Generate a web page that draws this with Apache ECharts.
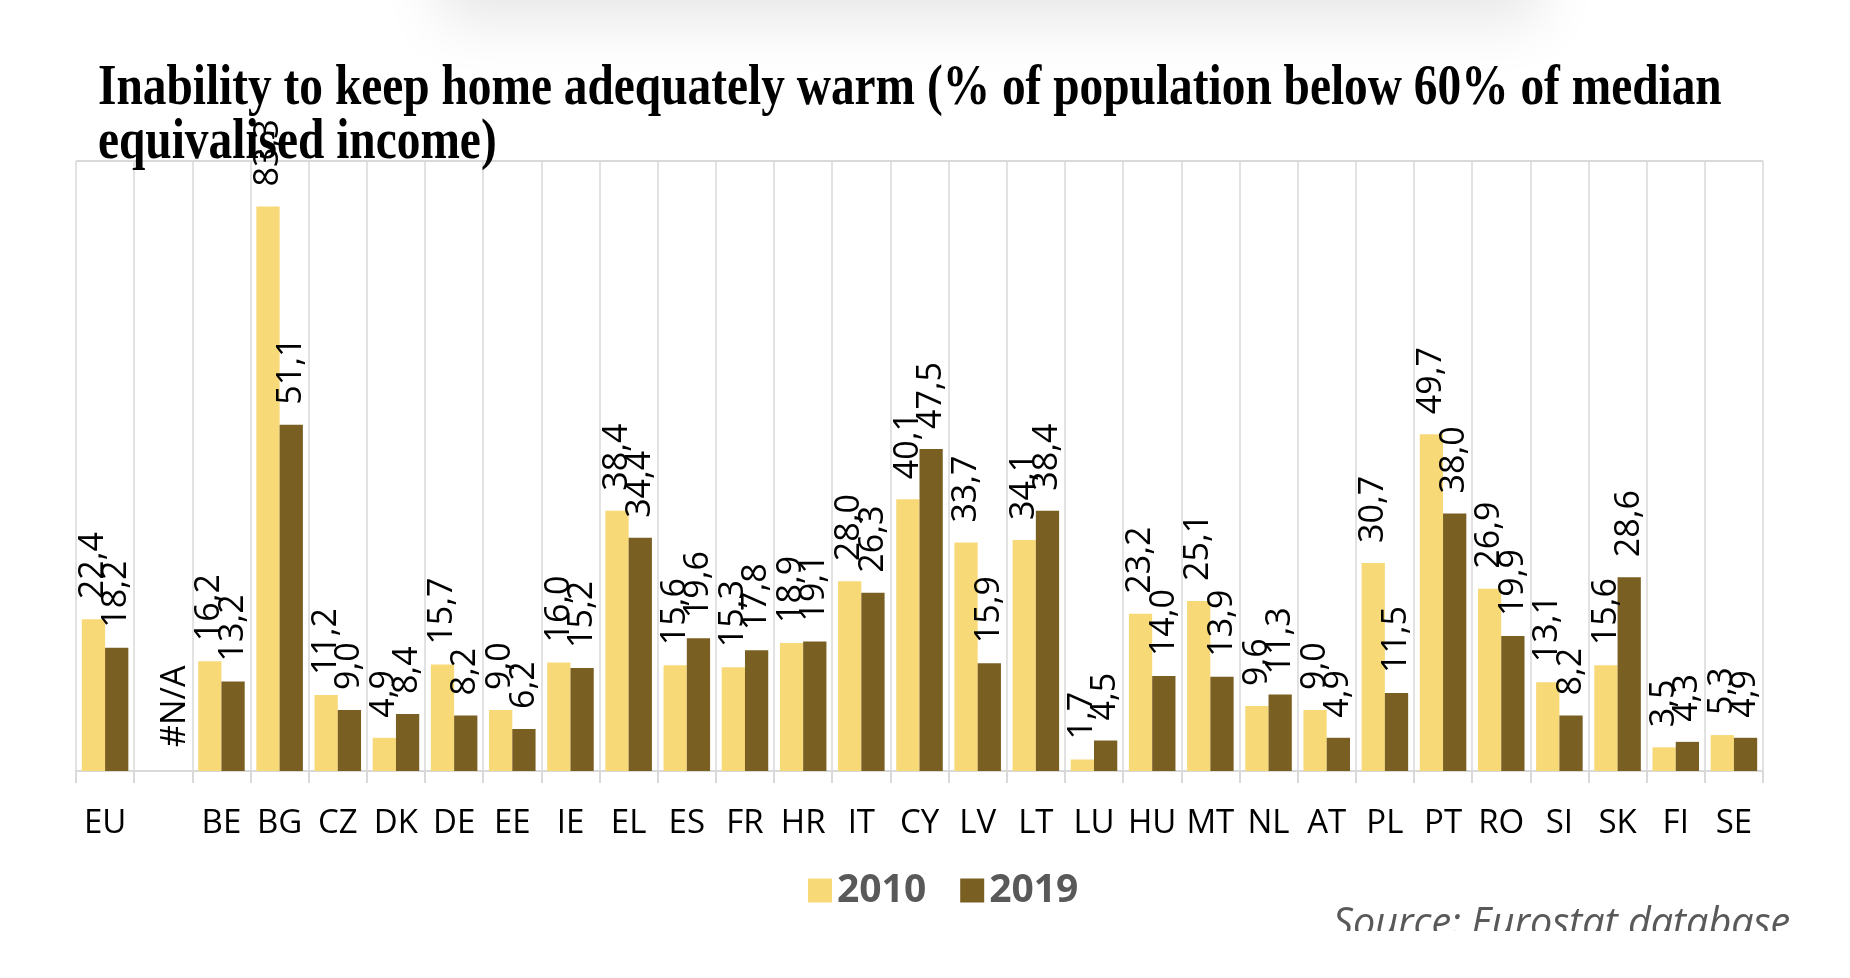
<!DOCTYPE html>
<html>
<head>
<meta charset="utf-8">
<title>Inability to keep home adequately warm</title>
<script src="https://cdn.jsdelivr.net/npm/echarts@6/dist/echarts.min.js"></script>
<style>
  html, body { margin: 0; width: 100%; height: 100%; background: #fff; }
  #chart { width: 1850px; height: 978px; }
</style>
</head>
<body>
<div id="chart"></div>
<script>
// countries (the blank slot is the #N/A one in the source)
var countries = ['EU', '', 'BE', 'BG', 'CZ', 'DK', 'DE', 'EE', 'IE', 'EL', 'ES', 'FR', 'HR', 'IT', 'CY',
  'LV', 'LT', 'LU', 'HU', 'MT', 'NL', 'AT', 'PL', 'PT', 'RO', 'SI', 'SK', 'FI', 'SE'];
var values2010 = [22.4, null, 16.2, 83.3, 11.2, 4.9, 15.7, 9.0, 16.0, 38.4, 15.6, 15.3, 18.9, 28.0, 40.1,
  33.7, 34.1, 1.7, 23.2, 25.1, 9.6, 9.0, 30.7, 49.7, 26.9, 13.1, 15.6, 3.5, 5.3];
var values2019 = [18.2, null, 13.2, 51.1, 9.0, 8.4, 8.2, 6.2, 15.2, 34.4, 19.6, 17.8, 19.1, 26.3, 47.5,
  15.9, 38.4, 4.5, 14.0, 13.9, 11.3, 4.9, 11.5, 38.0, 19.9, 8.2, 28.6, 4.3, 4.9];
var seriesNames = ['2010', '2019'];
var titleLines = ['Inability to keep home adequately warm (% of population below 60% of median',
  'equivalised income)'];
var sourceText = 'Source: Eurostat database';

var chart = echarts.init(document.getElementById('chart'));

function fmt(p) {
  if (p.data && p.data.na) return '#N/A';
  return p.value.toFixed(1).replace('.', ',');
}

var labelStyle = {
  show: true,
  position: 'top',
  rotate: 90,
  align: 'left',
  verticalAlign: 'middle',
  distance: 20,
  fontFamily: 'Open Sans',
  fontSize: 34,
  color: '#000',
  formatter: fmt
};

// missing values: no bar, but the #N/A text is shown on the 2019 slot
var data2019 = values2019.map(function (v) {
  return v === null ? { value: 0, na: true, label: { distance: 24 } } : v;
});

var grey = '#d9d9d9';

chart.setOption({
  animation: false,
  textStyle: { fontFamily: 'Open Sans' },
  grid: { left: 76, right: 87, top: 161, bottom: 207 },
  legend: {
    data: seriesNames,
    left: 803,
    top: 866,
    icon: 'rect',
    itemWidth: 24,
    itemHeight: 24,
    itemGap: 34,
    textStyle: { fontFamily: 'Open Sans', fontSize: 39, fontWeight: 'bold', color: '#595959' }
  },
  xAxis: {
    type: 'category',
    data: countries,
    axisLine: { lineStyle: { color: grey, width: 2 } },
    axisTick: { show: true, length: 12, lineStyle: { color: grey, width: 2 } },
    splitLine: { show: true, lineStyle: { color: grey, width: 1.5 } },
    axisLabel: { interval: 0, margin: 36, fontFamily: 'Open Sans', fontSize: 33, color: '#000' }
  },
  yAxis: {
    type: 'value',
    min: 0,
    max: 90,
    interval: 90,
    axisLabel: { show: false },
    axisLine: { show: false },
    axisTick: { show: false },
    splitLine: { lineStyle: { color: grey, width: 2 } }
  },
  series: [
    {
      name: seriesNames[0],
      type: 'bar',
      data: values2010,
      barGap: '0%',
      barCategoryGap: '20%',
      itemStyle: { color: '#f8d978' },
      label: labelStyle
    },
    {
      name: seriesNames[1],
      type: 'bar',
      data: data2019,
      barGap: '0%',
      barCategoryGap: '20%',
      itemStyle: { color: '#7a5f22' },
      label: labelStyle
    }
  ],
  graphic: [
    {
      // soft grey shadow along the top edge
      type: 'rect',
      shape: { x: 440, y: -130, width: 1100, height: 110 },
      style: { fill: '#fff', shadowBlur: 60, shadowOffsetY: 40, shadowColor: 'rgba(0,0,0,0.1)' },
      silent: true,
      z: -1
    },
    {
      type: 'text',
      x: 98, y: 89,
      scaleX: 0.831,
      style: { text: titleLines[0], font: 'bold 57px "Liberation Serif"', fill: '#000', verticalAlign: 'middle' },
      z: 10
    },
    {
      type: 'text',
      x: 98, y: 143,
      scaleX: 0.831,
      style: { text: titleLines[1], font: 'bold 57px "Liberation Serif"', fill: '#000', verticalAlign: 'middle' },
      z: 10
    },
    {
      type: 'text',
      x: 1333, y: 925,
      style: { text: sourceText, font: 'italic 39.5px "Open Sans"', fill: '#595959', verticalAlign: 'middle' },
      z: 10
    },
    {
      // the source line is cut off at the bottom in the original
      type: 'rect',
      shape: { x: 1300, y: 931, width: 550, height: 60 },
      style: { fill: '#fff' },
      z: 11
    }
  ]
});
</script>
</body>
</html>
